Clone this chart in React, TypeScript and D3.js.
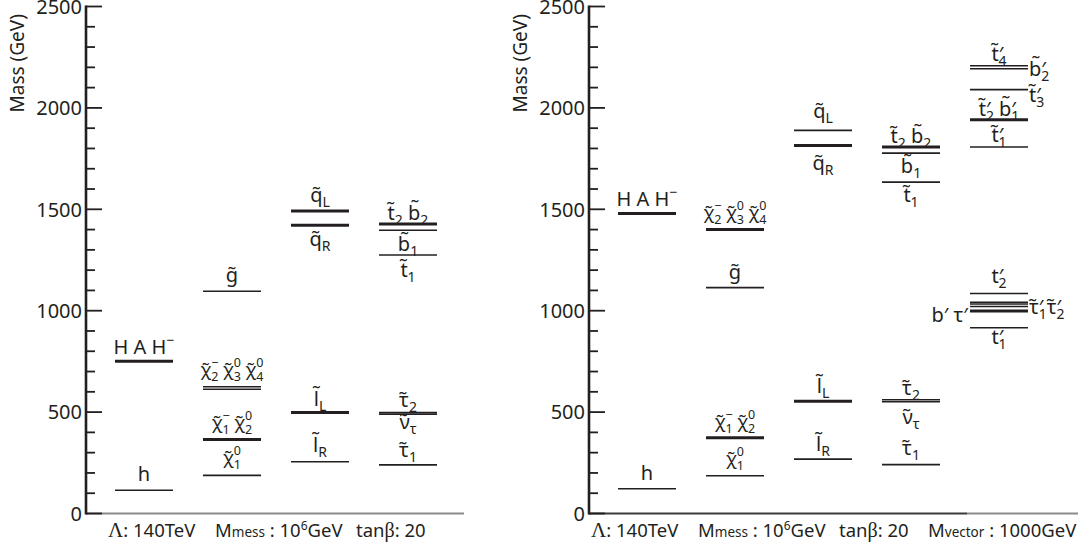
import React from "react";
import * as d3 from "d3";

// ---------- DATA ----------
const Y_MAX = 2500;
const yTicksMajor = [0, 500, 1000, 1500, 2000, 2500];

// Left panel (no vector-like matter)
const leftMasses: number[][] = [
  [751, 115],
  [1096, 625, 613, 365, 188],
  [1492, 1421, 498, 255],
  [1428, 1397, 1275, 498, 490, 240],
];
// Right panel (with vector-like matter)
const rightMasses: number[][] = [
  [1479, 122],
  [1400, 1114, 373, 186],
  [1889, 1814, 553, 268],
  [1807, 1777, 1634, 561, 551, 241],
  [2208, 2193, 2090, 1942, 1807, 1085, 1042, 1033, 1021, 998, 916],
];
const leftBottom = ["Λ|: 140TeV", "M|mess| : 10|6|GeV", "tan|β|: 20"];
const rightBottom = ["Λ|: 140TeV", "M|mess| : 10|6|GeV", "tan|β|: 20", "M|vector| : 1000GeV"];

// ---------- STYLE / LAYOUT ----------
const leftThick = [[1, 0], [0, 0, 0, 1, 0], [1, 1, 1, 0], [1, 0, 0, 0, 0, 0]];
const rightThick = [[1, 0], [1, 0, 1, 0], [0, 1, 1, 0], [1, 0, 0, 0, 0, 0], [0, 0, 0, 1, 0, 0, 0, 0, 0, 1, 0]];

type Lab = { col: number; at: number; dy: number; text: string; anchor?: "middle" | "start" | "end"; small?: boolean };

const leftLabels: Lab[] = [
  { col: 0, at: 751, dy: -7, text: "H A H^−" },
  { col: 0, at: 115, dy: -9, text: "h" },
  { col: 1, at: 1096, dy: -9, text: "g~" },
  { col: 1, at: 625, dy: -11, text: "χ~_2^− χ~_3^0 χ~_4^0", small: true },
  { col: 1, at: 365, dy: -10, text: "χ~_1^− χ~_2^0", small: true },
  { col: 1, at: 188, dy: -11, text: "χ~_1^0", small: true },
  { col: 2, at: 1492, dy: -9, text: "q~_L" },
  { col: 2, at: 1421, dy: 21, text: "q~_R" },
  { col: 2, at: 498, dy: -7, text: "l~_L" },
  { col: 2, at: 255, dy: -10, text: "l~_R" },
  { col: 3, at: 1428, dy: -4, text: "t~_2 b~_2" },
  { col: 3, at: 1397, dy: 21, text: "b~_1" },
  { col: 3, at: 1275, dy: 22, text: "t~_1" },
  { col: 3, at: 498, dy: -6, text: "τ~_2" },
  { col: 3, at: 490, dy: 15, text: "ν~_τ" },
  { col: 3, at: 240, dy: -8, text: "τ~_1" },
];
const rightLabels: Lab[] = [
  { col: 0, at: 1479, dy: -8, text: "H A H^−" },
  { col: 0, at: 122, dy: -9, text: "h" },
  { col: 1, at: 1400, dy: -11, text: "χ~_2^− χ~_3^0 χ~_4^0", small: true },
  { col: 1, at: 1114, dy: -9, text: "g~" },
  { col: 1, at: 373, dy: -10, text: "χ~_1^− χ~_2^0", small: true },
  { col: 1, at: 186, dy: -11, text: "χ~_1^0", small: true },
  { col: 2, at: 1889, dy: -12, text: "q~_L" },
  { col: 2, at: 1814, dy: 24, text: "q~_R" },
  { col: 2, at: 553, dy: -8, text: "l~_L" },
  { col: 2, at: 268, dy: -8, text: "l~_R" },
  { col: 3, at: 1807, dy: -4, text: "t~_2 b~_2" },
  { col: 3, at: 1777, dy: 20, text: "b~_1" },
  { col: 3, at: 1634, dy: 20, text: "t~_1" },
  { col: 3, at: 561, dy: -5, text: "τ~_2" },
  { col: 3, at: 551, dy: 22, text: "ν~_τ" },
  { col: 3, at: 241, dy: -10, text: "τ~_1" },
  { col: 4, at: 2208, dy: -5, text: "t~^′_4" },
  { col: 4, at: 2193, dy: 7, text: "b~_2^′", anchor: "start" },
  { col: 4, at: 2090, dy: 12, text: "t~_3^′", anchor: "start" },
  { col: 4, at: 1942, dy: -4, text: "t~_2^′ b~_1^′" },
  { col: 4, at: 1807, dy: -5, text: "t~_1^′" },
  { col: 4, at: 1085, dy: -10, text: "t^′_2" },
  { col: 4, at: 998, dy: 11, text: "b′ τ′", anchor: "end" },
  { col: 4, at: 1042, dy: 12, text: "τ~_1^′τ~_2^′", anchor: "start" },
  { col: 4, at: 916, dy: 16, text: "t^′_1" },
];

const FONT = "'Noto Sans', 'DejaVu Sans', sans-serif";
const SERIF = "'Liberation Serif', 'DejaVu Serif', serif";
const INK = "#231f20";
const COL_W = 58;
const COL_STEP = 88;
const COL_OFF = 29;
const bottomOffsets = [0, 107, 248, 337];

const y = d3.scaleLinear().domain([0, Y_MAX]).range([513.5, 6.5]);

type Tok = { k: "n" | "sub" | "sup"; t: string };
function tokenize(s: string): Tok[] {
  const out: Tok[] = [];
  let buf = "";
  let i = 0;
  while (i < s.length) {
    const c = s[i];
    if (c === "_" || c === "^") {
      if (buf) { out.push({ k: "n", t: buf }); buf = ""; }
      let t: string;
      if (s[i + 1] === "{") { const j = s.indexOf("}", i); t = s.slice(i + 2, j); i = j + 1; }
      else { t = s[i + 1]; i += 2; }
      out.push({ k: c === "_" ? "sub" : "sup", t });
    } else {
      buf += c === "~" ? "\u0303" : c;
      i++;
    }
  }
  if (buf) out.push({ k: "n", t: buf });
  return out;
}

const SUB_SHIFT = 5;
const SUP_SHIFT = -9;

function Label({ x, yb, text, anchor, small }: { x: number; yb: number; text: string; anchor: string; small?: boolean }) {
  const size = small ? 18 : 20;
  const sub = small ? 12.5 : 14;
  const toks = tokenize(text);
  const isPrime = (t: Tok) => t.k === "sup" && t.t === "′";
  const tokSize = (t: Tok) => (t.k === "n" || isPrime(t) ? size : sub);
  const width = (t: Tok) => {
    let w = 0;
    for (const ch of t.t) w += ch === "′" ? 0.24 : 0.57;
    return w * tokSize(t);
  };
  const spans: React.ReactNode[] = [];
  let prev: Tok | null = null;
  let pending = 0;
  let cur = 0;
  toks.forEach((tok, i) => {
    let dx = pending;
    pending = 0;
    if (prev && prev.k !== "n" && tok.k !== "n" && prev.k !== tok.k) {
      const w1 = width(prev);
      const w2 = width(tok);
      dx += -w1;
      if (w2 < w1) pending = w1 - w2;
    }
    const target = tok.k === "sub" ? SUB_SHIFT : tok.k === "sup" ? (isPrime(tok) ? 0 : SUP_SHIFT) : 0;
    const dy = target - cur;
    cur = target;
    spans.push(
      <tspan key={i} dy={dy || undefined} dx={dx || undefined} fontSize={tokSize(tok)}>
        {tok.t}
      </tspan>
    );
    prev = tok;
  });
  return (
    <text x={x} y={yb} textAnchor={anchor} fontFamily={FONT} fill={INK} style={{ whiteSpace: "pre" }}>
      {spans}
    </text>
  );
}

function BottomText({ x, spec }: { x: number; spec: string }) {
  const parts = spec.split("|");
  const yb = 537;
  const nodes: React.ReactNode[] = [];
  if (parts[0] === "Λ") {
    nodes.push(<tspan key="a" fontFamily={SERIF} fontSize={21}>Λ</tspan>);
    nodes.push(<tspan key="b">{parts[1]}</tspan>);
  } else if (parts[0] === "M") {
    nodes.push(<tspan key="a">M</tspan>);
    nodes.push(<tspan key="b" fontSize={13.5}>{parts[1]}</tspan>);
    nodes.push(<tspan key="c">{parts[2]}</tspan>);
    if (parts.length > 3) {
      nodes.push(<tspan key="d" fontSize={12} dy={-7}>{parts[3]}</tspan>);
      nodes.push(<tspan key="e" dy={7}>{parts[4]}</tspan>);
    }
  } else {
    nodes.push(<tspan key="a">{parts[0]}</tspan>);
    nodes.push(<tspan key="b" fontFamily={SERIF} fontSize={20}>{parts[1]}</tspan>);
    nodes.push(<tspan key="c">{parts[2]}</tspan>);
  }
  return (
    <text x={x} y={yb} fontFamily={FONT} fontSize={18.5} fill={INK} style={{ whiteSpace: "pre" }}>
      {nodes}
    </text>
  );
}

function Panel({ axisX, masses, thick, labels, bottom, bottomX, baseEnd, darkEnd }: {
  axisX: number; masses: number[][]; thick: number[][]; labels: Lab[]; bottom: string[]; bottomX: number; baseEnd: number; darkEnd?: number;
}) {
  const colX = d3.scaleLinear().domain([0, 1]).range([axisX + COL_OFF, axisX + COL_OFF + COL_STEP]);
  const minor = d3.range(0, Y_MAX + 1, 100);
  return (
    <g>
      {darkEnd ? (
        <>
          <line x1={axisX} x2={darkEnd} y1={y(0)} y2={y(0)} stroke="#3a3a3a" strokeWidth={2.2} />
          <line x1={darkEnd} x2={baseEnd} y1={y(0)} y2={y(0)} stroke="#8c8c8c" strokeWidth={2.2} />
        </>
      ) : (
        <line x1={axisX} x2={baseEnd} y1={y(0)} y2={y(0)} stroke="#8a8a8a" strokeWidth={2.2} />
      )}
      {minor.map((v) => (
        <line key={v} x1={axisX} x2={axisX + (v % 500 === 0 ? 16 : 9)} y1={y(v)} y2={y(v)} stroke={INK} strokeWidth={1.8} />
      ))}
      <line x1={axisX} x2={axisX} y1={y(Y_MAX) - 1} y2={y(0) + 1} stroke={INK} strokeWidth={2.6} />
      {yTicksMajor.map((v) => (
        <text key={v} x={axisX - 4} y={y(v)} dy="0.36em" textAnchor="end" fontFamily={FONT} fontSize={20} fill={INK}>
          {v}
        </text>
      ))}
      <text transform={`translate(${axisX - 69},${y(2220)}) rotate(-90)`} textAnchor="middle" dy="0.35em" fontFamily={FONT} fontSize={19} fill={INK}>
        Mass (GeV)
      </text>
      {masses.map((col, ci) =>
        col.map((m, li) => (
          <line key={`${ci}-${li}`} x1={colX(ci)} x2={colX(ci) + COL_W} y1={y(m)} y2={y(m)} stroke={INK}
            strokeWidth={thick[ci][li] ? 3 : 1.6} />
        ))
      )}
      {labels.map((l, i) => {
        const anchor = l.anchor || "middle";
        const x = anchor === "middle" ? colX(l.col) + COL_W / 2 : anchor === "start" ? colX(l.col) + COL_W + 1 : colX(l.col) - 2;
        return <Label key={i} x={x} yb={y(l.at) + l.dy} text={l.text} anchor={anchor} small={l.small} />;
      })}
      {bottom.map((b, i) => (
        <BottomText key={i} x={bottomX + bottomOffsets[i]} spec={b} />
      ))}
    </g>
  );
}

export default function App() {
  return (
    <svg width={1084} height={552} style={{ position: "absolute", left: 0, top: 0, background: "#fff" }}>
      <rect width={1084} height={552} fill="#fff" />
      <Panel axisX={86} masses={leftMasses} thick={leftThick} labels={leftLabels} bottom={leftBottom} bottomX={108} baseEnd={464} />
      <Panel axisX={589} masses={rightMasses} thick={rightThick} labels={rightLabels} bottom={rightBottom} bottomX={591} baseEnd={1078} darkEnd={967} />
    </svg>
  );
}
